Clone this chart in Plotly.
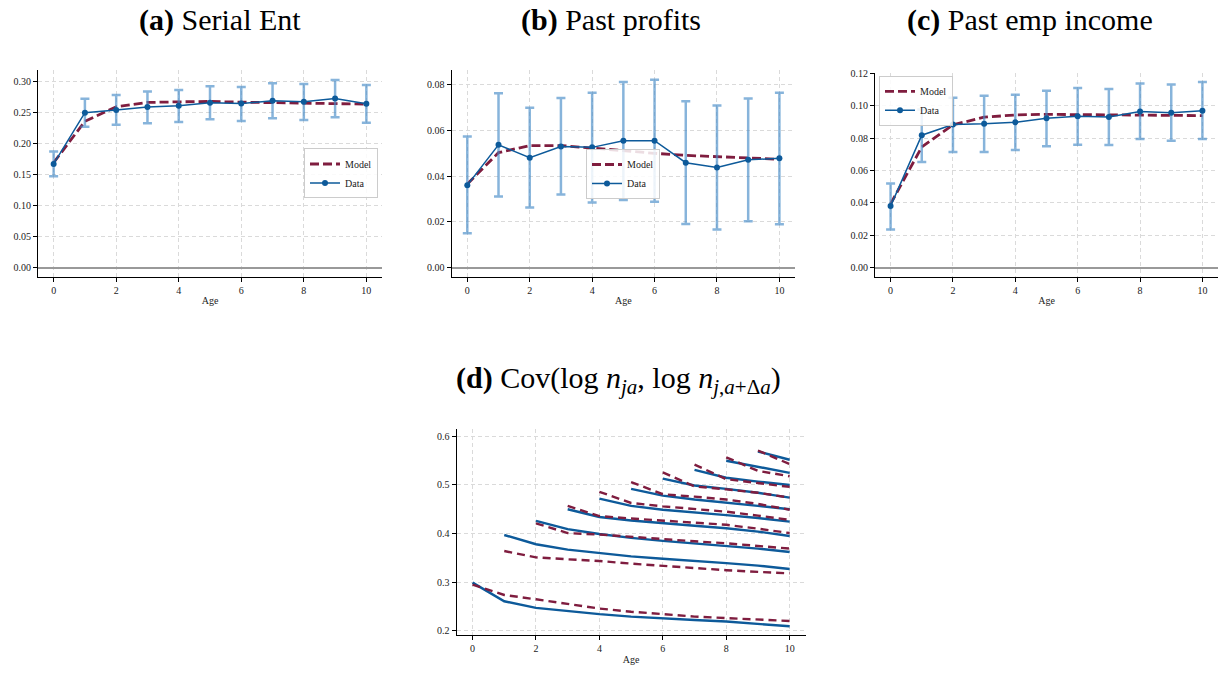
import plotly.graph_objects as go

ages = list(range(11))
x_ticks = [0, 2, 4, 6, 8, 10]

# (a) Serial Ent
serial_data = [0.167, 0.2495, 0.2537, 0.2585, 0.2606, 0.2654, 0.2644, 0.2686, 0.267, 0.2723, 0.2638]
serial_hi = [0.187, 0.272, 0.278, 0.2835, 0.286, 0.292, 0.291, 0.2968, 0.2957, 0.302, 0.294]
serial_lo = [0.147, 0.227, 0.230, 0.2324, 0.2346, 0.2388, 0.236, 0.2404, 0.2378, 0.242, 0.2335]
serial_model = [0.169, 0.2356, 0.259, 0.266, 0.267, 0.2676, 0.2665, 0.2654, 0.265, 0.2638, 0.2633]

# (b) Past profits
profit_data = [0.0360, 0.0536, 0.0480, 0.0529, 0.0525, 0.0554, 0.0554, 0.0458, 0.0437, 0.0471, 0.0477]
profit_hi = [0.0572, 0.0761, 0.0698, 0.0741, 0.0764, 0.0810, 0.0820, 0.0726, 0.0708, 0.0738, 0.0764]
profit_lo = [0.0150, 0.0310, 0.0262, 0.0319, 0.0284, 0.0295, 0.0288, 0.0190, 0.0166, 0.0203, 0.0189]
profit_model = [0.0365, 0.0502, 0.0533, 0.0533, 0.0522, 0.0509, 0.0499, 0.0490, 0.0483, 0.0479, 0.0473]

# (c) Past emp income
emp_data = [0.0380, 0.0818, 0.0884, 0.0888, 0.0898, 0.0922, 0.0935, 0.0931, 0.0965, 0.0957, 0.0969]
emp_hi = [0.0520, 0.0976, 0.1049, 0.1061, 0.1067, 0.1092, 0.1110, 0.1104, 0.1137, 0.1131, 0.1147]
emp_lo = [0.0235, 0.0653, 0.0714, 0.0714, 0.0727, 0.0749, 0.0759, 0.0757, 0.0794, 0.0784, 0.0794]
emp_model = [0.0394, 0.0745, 0.0882, 0.0929, 0.0943, 0.0947, 0.0945, 0.0943, 0.0941, 0.0941, 0.0939]

# (d) Cov(log n_ja, log n_j,a+da): one curve per starting age, running to age 10
cov_start = list(range(10))
cov_data = [
    [0.299, 0.2605, 0.247, 0.240, 0.234, 0.229, 0.225, 0.222, 0.219, 0.214, 0.209],
    [0.397, 0.378, 0.367, 0.360, 0.353, 0.348, 0.344, 0.339, 0.334, 0.327],
    [0.426, 0.409, 0.399, 0.391, 0.385, 0.380, 0.375, 0.369, 0.362],
    [0.450, 0.434, 0.427, 0.421, 0.416, 0.411, 0.404, 0.395],
    [0.472, 0.457, 0.449, 0.444, 0.438, 0.432, 0.4245],
    [0.492, 0.478, 0.470, 0.464, 0.457, 0.450],
    [0.513, 0.499, 0.492, 0.484, 0.474],
    [0.531, 0.515, 0.507, 0.500],
    [0.550, 0.537, 0.525],
    [0.569, 0.552],
]
cov_model = [
    [0.295, 0.2735, 0.2646, 0.2544, 0.2456, 0.239, 0.2333, 0.229, 0.2259, 0.223, 0.220],
    [0.364, 0.351, 0.347, 0.3435, 0.338, 0.333, 0.329, 0.3245, 0.321, 0.318],
    [0.421, 0.401, 0.398, 0.393, 0.388, 0.384, 0.380, 0.375, 0.369],
    [0.457, 0.436, 0.431, 0.427, 0.423, 0.418, 0.410, 0.401],
    [0.486, 0.463, 0.456, 0.451, 0.445, 0.437, 0.428],
    [0.506, 0.481, 0.476, 0.470, 0.461, 0.449],
    [0.526, 0.497, 0.491, 0.484, 0.474],
    [0.542, 0.512, 0.504, 0.496],
    [0.557, 0.529, 0.518],
    [0.571, 0.543],
]

MODEL_C = "#7f1d3f"
DATA_C = "#0d5a9a"
ERR_C = "rgba(70,140,200,0.65)"
SERIF = "Liberation Serif"

W, H = 1225, 673


def px_x(a, b):
    return [a / W, b / W]


def px_y(top, bottom):
    return [1 - bottom / H, 1 - top / H]


fig = go.Figure()

panels = [
    ("x", "y", "legend", serial_data, serial_hi, serial_lo, serial_model),
    ("x2", "y2", "legend2", profit_data, profit_hi, profit_lo, profit_model),
    ("x3", "y3", "legend3", emp_data, emp_hi, emp_lo, emp_model),
]
for xa, ya, lg, d, hi, lo, m in panels:
    fig.add_trace(go.Scatter(
        x=ages, y=m, mode="lines", name="Model", xaxis=xa, yaxis=ya, legend=lg,
        line=dict(color=MODEL_C, width=2.8, dash="9px,4px"),
    ))
    fig.add_trace(go.Scatter(
        x=ages, y=d, mode="lines+markers", name="Data", xaxis=xa, yaxis=ya, legend=lg,
        line=dict(color=DATA_C, width=1.5),
        marker=dict(color=DATA_C, size=6),
        error_y=dict(type="data", symmetric=False,
                     array=[h - v for h, v in zip(hi, d)],
                     arrayminus=[v - l for v, l in zip(d, lo)],
                     color=ERR_C, thickness=2.5, width=4.5),
    ))

for s, vals in zip(cov_start, cov_data):
    fig.add_trace(go.Scatter(
        x=ages[s:], y=vals, mode="lines", xaxis="x4", yaxis="y4", showlegend=False,
        line=dict(color=DATA_C, width=2.4),
    ))
for s, vals in zip(cov_start, cov_model):
    fig.add_trace(go.Scatter(
        x=ages[s:], y=vals, mode="lines", xaxis="x4", yaxis="y4", showlegend=False,
        line=dict(color=MODEL_C, width=2.4, dash="8px,5px"),
    ))

tickfont = dict(family=SERIF, size=10, color="#222")
GRID = dict(showgrid=True, gridcolor="#dadada", griddash="4px,3px", gridwidth=1)


def xaxis(domain, anchor):
    return dict(
        domain=domain, anchor=anchor, range=[-0.5, 10.5],
        tickvals=x_ticks, ticks="outside", ticklen=4, tickwidth=1, tickcolor="black",
        showline=True, linecolor="black", linewidth=1.2, mirror=False,
        zeroline=False, tickfont=tickfont,
        title=dict(text="Age", font=dict(family=SERIF, size=10, color="#222"), standoff=2),
        **GRID,
    )


def yaxis(domain, anchor, rng, dtick, fmt, zero=True):
    return dict(
        domain=domain, anchor=anchor, range=rng, dtick=dtick, tick0=0, tickformat=fmt,
        ticks="outside", ticklen=4, tickwidth=1, tickcolor="black",
        showline=True, linecolor="black", linewidth=1.2, mirror=False,
        zeroline=zero, zerolinecolor="#999999", zerolinewidth=2.2, tickfont=tickfont,
        **GRID,
    )


legend_common = dict(
    font=dict(family=SERIF, size=10, color="#222"),
    bgcolor="rgba(255,255,255,0.85)", bordercolor="#cccccc", borderwidth=1,
    itemwidth=30, tracegroupgap=0,
)

fig.update_layout(
    width=W, height=H, margin=dict(l=0, r=0, t=0, b=0),
    paper_bgcolor="white", plot_bgcolor="white",
    font=dict(family=SERIF),
    xaxis=xaxis(px_x(38, 382), "y"),
    yaxis=yaxis(px_y(66, 274), "x", [-0.0144, 0.3176], 0.05, ".2f"),
    xaxis2=xaxis(px_x(451.7, 795), "y2"),
    yaxis2=yaxis(px_y(66, 274), "x2", [-0.0039, 0.0861], 0.02, ".2f"),
    xaxis3=xaxis(px_x(875, 1218), "y3"),
    yaxis3=yaxis(px_y(68.3, 274), "x3", [-0.0055, 0.1204], 0.02, ".2f"),
    xaxis4=xaxis(px_x(456.7, 805.5), "y4"),
    yaxis4=yaxis(px_y(428.3, 636), "x4", [0.1904, 0.6143], 0.1, ".1f", zero=False),
    legend=dict(x=378 / W, y=1 - 170 / H, xanchor="right", yanchor="middle", **legend_common),
    legend2=dict(x=623 / W, y=1 - 170.5 / H, xanchor="center", yanchor="middle", **legend_common),
    legend3=dict(x=879 / W, y=1 - 71.5 / H, xanchor="left", yanchor="top", **legend_common),
)

titles = [
    ("<b>(a)</b> Serial Ent", 220, 15),
    ("<b>(b)</b> Past profits", 611, 15),
    ("<b>(c)</b> Past emp income", 1030, 15),
    ("<b>(d)</b> Cov(log <i>n</i><sub><i>ja</i></sub>, log <i>n</i><sub><i>j</i>,<i>a</i>+Δ<i>a</i></sub>)", 618, 378),
]
for text, cx, cy in titles:
    fig.add_annotation(
        text=text, x=cx / W, y=1 - cy / H, xref="paper", yref="paper",
        xanchor="center", yanchor="middle", showarrow=False,
        font=dict(family=SERIF, size=30, color="black"),
    )

fig.write_html("out.html")
